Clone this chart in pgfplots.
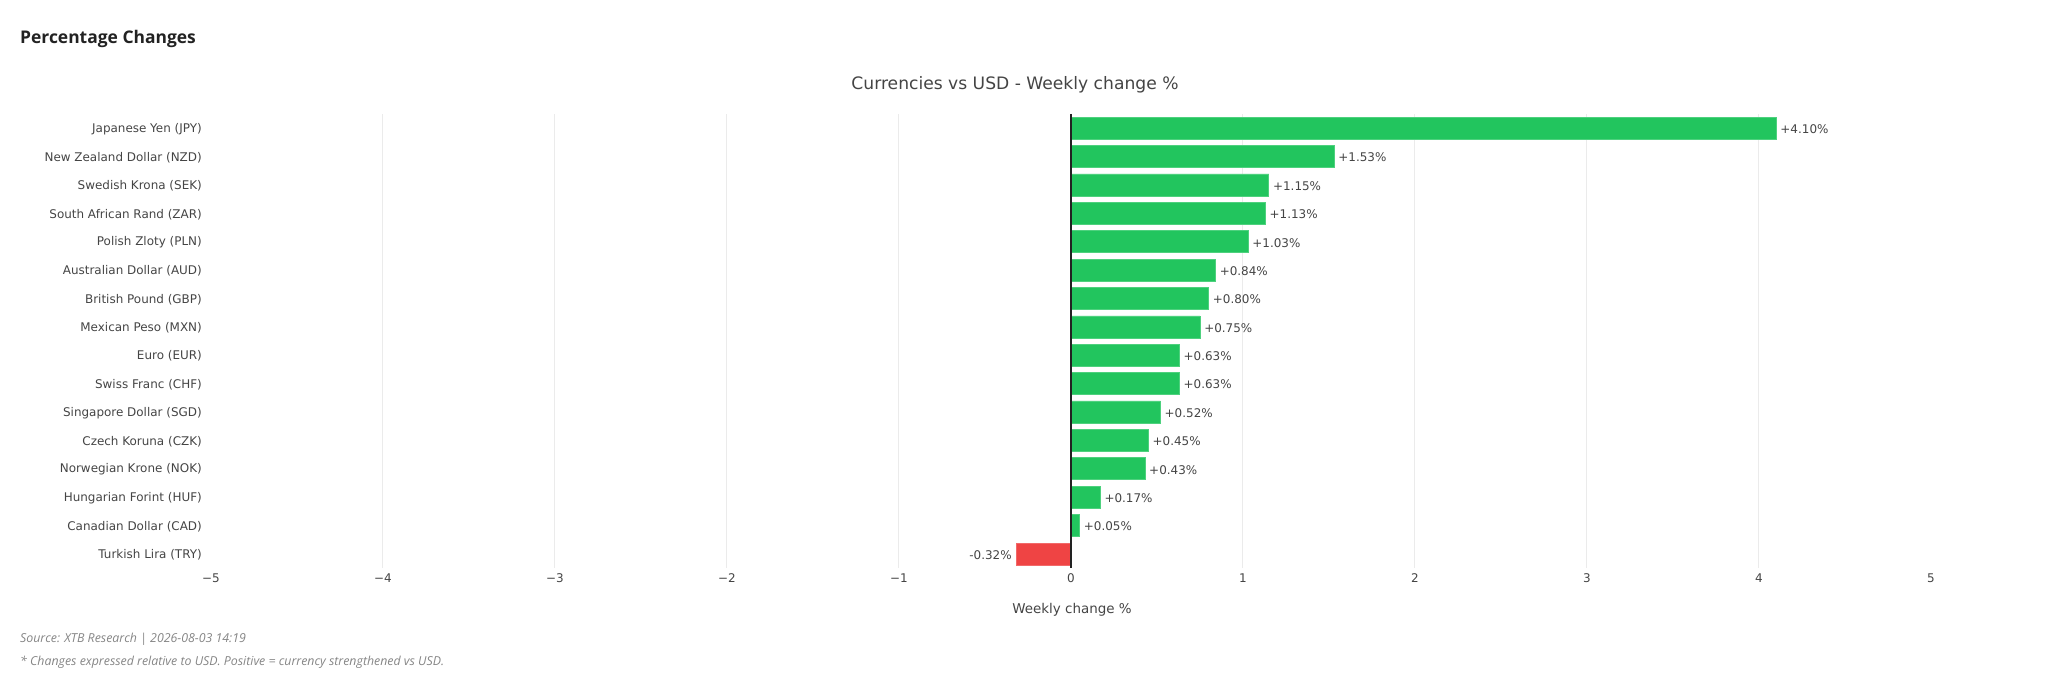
\documentclass[border=0pt]{standalone}
\usepackage{fontspec}
\setmainfont{DejaVu Sans}
\newfontfamily\osans{Open Sans}
\usepackage{pgfplots}
\pgfplotsset{compat=1.18}
\usepackage{pgfplotstable}
\definecolor{posg}{HTML}{22C55E}
\definecolor{negr}{HTML}{EF4444}
\definecolor{txt}{HTML}{444444}
\definecolor{gridc}{HTML}{EBEBEB}
\definecolor{foot}{HTML}{858585}
\definecolor{head}{HTML}{222222}

\pgfplotstableread{
y x lab
0 4.10 +4.10\%
1 1.53 +1.53\%
2 1.15 +1.15\%
3 1.13 +1.13\%
4 1.03 +1.03\%
5 0.84 +0.84\%
6 0.80 +0.80\%
7 0.75 +0.75\%
8 0.63 +0.63\%
9 0.63 +0.63\%
10 0.52 +0.52\%
11 0.45 +0.45\%
12 0.43 +0.43\%
13 0.17 +0.17\%
14 0.05 +0.05\%
}\pos
\pgfplotstableread{
y x lab
15 -0.32 -0.32\%
}\neg

\begin{document}
\begin{tikzpicture}[x=1bp,y=1bp]
\useasboundingbox (0,0) rectangle (2048,692);
\begin{axis}[
  at={(211bp,124bp)}, anchor=south west,
  scale only axis, width=1720bp, height=454bp,
  xmin=-5, xmax=5, ymin=-0.5, ymax=15.5,
  y dir=reverse,
  axis line style={draw=none},
  major tick length=0pt,
  xtick={-5,-4,-3,-2,-1,0,1,2,3,4,5},
  xticklabels={−5,−4,−3,−2,−1,0,1,2,3,4,5},
  extra x ticks={-4,-3,-2,-1,1,2,3,4},
  extra x tick labels={},
  extra x tick style={grid=major, major grid style={gridc, line width=1bp}},
  ytick={0,...,15},
  yticklabels={Japanese Yen (JPY),New Zealand Dollar (NZD),Swedish Krona (SEK),South African Rand (ZAR),Polish Zloty (PLN),Australian Dollar (AUD),British Pound (GBP),Mexican Peso (MXN),Euro (EUR),Swiss Franc (CHF),Singapore Dollar (SGD),Czech Koruna (CZK),Norwegian Krone (NOK),Hungarian Forint (HUF),Canadian Dollar (CAD),Turkish Lira (TRY)},
  yticklabel style={font=\fontsize{12}{14}\selectfont, text=txt, anchor=east, inner sep=0pt, xshift=-9bp, yshift=-1bp},
  xticklabel style={font=\fontsize{12}{14}\selectfont, text=txt, anchor=north, inner sep=0pt, yshift=-5.5bp},
  clip=false,
]
\addplot[xbar, fill=posg, draw=posg!80!white, line width=0.6bp, bar width=22bp, bar shift=0pt,
  nodes near coords, point meta=explicit symbolic,
  nodes near coords style={anchor=west, inner sep=0pt, xshift=4bp, yshift=-1bp, text=txt, font=\fontsize{12}{14}\selectfont}]
  table[x=x, y=y, meta=lab] {\pos};
\addplot[xbar, fill=negr, draw=negr!80!white, line width=0.6bp, bar width=22bp, bar shift=0pt,
  nodes near coords, point meta=explicit symbolic,
  nodes near coords style={anchor=east, inner sep=0pt, xshift=-4bp, yshift=-1bp, text=txt, font=\fontsize{12}{14}\selectfont}]
  table[x=x, y=y, meta=lab] {\neg};
\draw[head, line width=1.6bp] (axis cs:0,-0.5) -- (axis cs:0,15.5);
\end{axis}
\node[anchor=west, inner sep=0pt, text=head, font=\osans\bfseries\fontsize{17.5}{21}\selectfont] at (20,653) {Percentage Changes};
\node[inner sep=0pt, text=txt, font=\fontsize{17.2}{21}\selectfont] at (1015,607.5) {Currencies vs USD - Weekly change \%};
\node[inner sep=0pt, text=txt, font=\fontsize{13.5}{16}\selectfont] at (1072,82) {Weekly change \%};
\node[anchor=west, inner sep=0pt, text=foot, font=\osans\itshape\fontsize{12.4}{15}\selectfont] at (20,53) {Source: XTB Research | 2026-08-03 14:19};
\node[anchor=west, inner sep=0pt, text=foot, font=\osans\itshape\fontsize{12.4}{15}\selectfont] at (20,30) {* Changes expressed relative to USD. Positive = currency strengthened vs USD.};
\end{tikzpicture}
\end{document}
